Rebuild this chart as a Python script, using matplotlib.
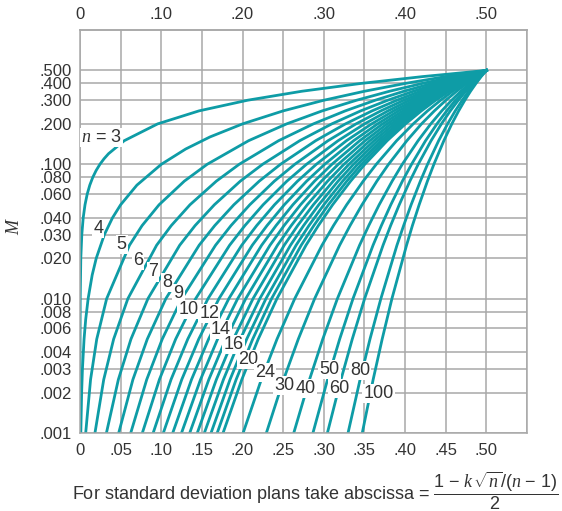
import matplotlib
matplotlib.use("Agg")
import matplotlib.pyplot as plt

TEAL = "#0e9ca6"
GRID = "#a8a8a8"
INK = "#333333"

plt.rcParams["font.family"] = ["Liberation Sans", "DejaVu Sans"]
plt.rcParams["mathtext.fontset"] = "custom"
plt.rcParams["mathtext.rm"] = "Liberation Sans"
plt.rcParams["mathtext.it"] = "Liberation Serif:italic"

# M levels read along the grid, shared by most curves
M_LEVELS = [.001, .0025, .005, .01, .025, .035, .05, .075, .10, .15, .20, .25,
            .30, .35, .40, .45, .50]

# abscissa where each curve crosses those M levels
X_N5 = [.0070, .0130, .0206, .0328, .0609, .0764, .0973, .1284, .1564, .2075, .2542,
        .2980, .3403, .3808, .4210, .4607, .50]
X_N6 = [.0184, .0292, .0414, .0589, .0943, .1123, .1353, .1678, .1958, .2444, .2871,
        .3264, .3632, .3986, .4329, .4666, .50]
X_N7 = [.0325, .0472, .0627, .0836, .1227, .1416, .1653, .1973, .2246, .2704, .3098,
        .3454, .3787, .4102, .4407, .4705, .50]
X_N8 = [.0476, .0651, .0828, .1056, .1466, .1658, .1893, .2206, .2466, .2900, .3266,
        .3594, .3899, .4186, .4462, .4733, .50]
X_N9 = [.0624, .0821, .1012, .1251, .1668, .1858, .2089, .2392, .2642, .3052, .3396,
        .3702, .3984, .4250, .4505, .4754, .50]
X_N10 = [.0767, .0977, .1177, .1423, .1841, .2029, .2253, .2546, .2786, .3176, .3501,
         .3789, .4052, .4301, .4539, .4771, .50]
X_N11 = [.0900, .1120, .1326, .1575, .1990, .2174, .2393, .2677, .2907, .3279, .3588,
         .3859, .4109, .4343, .4567, .4785, .50]
X_N12 = [.1025, .1252, .1461, .1710, .2120, .2301, .2514, .2789, .3010, .3367, .3661,
         .3919, .4155, .4378, .4590, .4796, .50]
X_N13 = [.1141, .1372, .1582, .1831, .2235, .2412, .2619, .2886, .3099, .3442, .3723,
         .3972, .4197, .4408, .4609, .4806, .50]
X_N14 = [.1249, .1483, .1693, .1940, .2338, .2511, .2713, .2971, .3177, .3508, .3778,
         .4017, .4231, .4434, .4627, .4815, .50]
X_N15 = [.1350, .1585, .1794, .2039, .2430, .2599, .2796, .3047, .3247, .3566, .3827,
         .4055, .4262, .4457, .4642, .4822, .50]
X_N16 = [.1443, .1678, .1887, .2129, .2513, .2678, .2871, .3115, .3309, .3618, .3870,
         .4091, .4290, .4477, .4656, .4829, .50]
X_N17 = [.1530, .1765, .1972, .2212, .2590, .2751, .2938, .3176, .3364, .3665, .3909,
         .4122, .4315, .4495, .4668, .4835, .50]
X_N18 = [.1612, .1846, .2051, .2288, .2659, .2817, .3000, .3232, .3415, .3707, .3943,
         .4150, .4337, .4512, .4678, .4840, .50]
X_N19 = [.1688, .1921, .2125, .2357, .2722, .2877, .3056, .3283, .3462, .3745, .3976,
         .4176, .4358, .4527, .4689, .4845, .50]
X_N20 = [.1760, .1991, .2193, .2423, .2781, .2933, .3108, .3330, .3504, .3780, .4005,
         .4200, .4376, .4541, .4698, .4850, .50]
X_N24 = [.2007, .2231, .2424, .2642, .2978, .3119, .3281, .3485, .3645, .3896, .4100,
         .4276, .4437, .4585, .4728, .4865, .50]
X_N30 = [.2293, .2505, .2686, .2887, .3195, .3323, .3470, .3653, .3796, .4022, .4202,
         .4360, .4502, .4633, .4758, .4880, .50]
X_N40 = [.2630, .2824, .2987, .3167, .3440, .3553, .3681, .3841, .3965, .4160, .4316,
         .4451, .4573, .4686, .4793, .4897, .50]
X_N50 = [.2866, .3046, .3195, .3359, .3606, .3708, .3824, .3967, .4079, .4252, .4392,
         .4512, .4620, .4721, .4816, .4909, .50]
X_N60 = [.3044, .3211, .3350, .3502, .3729, .3822, .3928, .4059, .4161, .4320, .4447,
         .4556, .4655, .4746, .4833, .4917, .50]
X_N80 = [.3298, .3446, .3568, .3702, .3900, .3982, .4074, .4188, .4276, .4413, .4523,
         .4617, .4703, .4781, .4856, .4929, .50]
X_N100 = [.3473, .3607, .3718, .3838, .4018, .4090, .4173, .4275, .4354, .4477, .4575,
          .4659, .4735, .4805, .4872, .4936, .50]

# n = 3 and n = 4 bend hard near the left edge, so they get their own points
N3_M = [.001, .002, .005, .01, .02, .03, .04, .05, .06, .07, .08, .09, .10, .11,
        .12, .15, .20, .25, .30, .35, .40, .45, .50]
N3_X = [.0000025, .0000099, .0000617, .000247, .000987, .00222, .00394, .00616,
        .00886, .01204, .01571, .01985, .02447, .02956, .03511, .05450, .09549,
        .14645, .20611, .27300, .34549, .42178, .50]
N4_M = [.001, .002, .003, .005, .007, .01, .015, .02, .03, .04, .05, .07, .10,
        .13, .16, .20, .25, .30, .35, .40, .45, .50]
N4_X = [.001, .002, .003, .005, .007, .01, .015, .02, .03, .04, .05, .07, .10,
        .13, .16, .20, .25, .30, .35, .40, .45, .50]

CURVES = [X_N5, X_N6, X_N7, X_N8, X_N9, X_N10, X_N11, X_N12, X_N13, X_N14, X_N15,
          X_N16, X_N17, X_N18, X_N19, X_N20, X_N24, X_N30, X_N40, X_N50, X_N60,
          X_N80, X_N100]

# curve labels: text, abscissa, M
LABEL_TEXT = [r"$n$ = 3", "4", "5", "6", "7", "8", "9", "10", "12", "14", "16",
              "20", "24", "30", "40", "50", "60", "80", "100"]
LABEL_X = [.0015, .0225, .0514, .0718, .0903, .1068, .1211, .1334, .1592, .1733,
           .1888, .2075, .2278, .2516, .2783, .3070, .3193, .3448, .3674]
LABEL_M = [.159, .0333, .0253, .0193, .0158, .0132, .0109, .00831, .00776, .00593,
           .00459, .00352, .00281, .00227, .00215, .00298, .00215, .00294, .00197]

Y_TICKS = [.001, .002, .003, .004, .006, .008, .010, .020, .030, .040, .060, .080,
           .100, .200, .300, .400, .500]
Y_LABELS = [".001", ".002", ".003", ".004", ".006", ".008", ".010", ".020", ".030",
            ".040", ".060", ".080", ".100", ".200", ".300", ".400", ".500"]
X_TICKS = [0, .05, .10, .15, .20, .25, .30, .35, .40, .45, .50, .55]
X_LABELS = ["0", ".05", ".10", ".15", ".20", ".25", ".30", ".35", ".40", ".45", ".50", ""]
TOP_TICKS = [0, .10, .20, .30, .40, .50]
TOP_LABELS = ["0", ".10", ".20", ".30", ".40", ".50"]


def main():
    fig = plt.figure(figsize=(5.62, 5.11), dpi=100)
    ax = fig.add_axes([80 / 562, 1 - 433 / 511, 447 / 562, 403 / 511])
    ax.set_yscale("log")

    ax.plot(N3_X, N3_M, color=TEAL, lw=2.0, zorder=2)
    ax.plot(N4_X, N4_M, color=TEAL, lw=2.0, zorder=2)
    for xs in CURVES:
        ax.plot(xs, M_LEVELS, color=TEAL, lw=2.0, zorder=2)

    for text, x, m in zip(LABEL_TEXT, LABEL_X, LABEL_M):
        ha = "left" if text.startswith("$") else "center"
        ax.text(x, m, text, ha=ha, va="center", fontsize=13, color=INK, zorder=4,
                bbox=dict(boxstyle="square,pad=0.06", fc="white", ec="none"))

    ax.set_xlim(0, .55)
    ax.set_ylim(.001, 1.0)
    ax.set_yticks(Y_TICKS, labels=Y_LABELS)
    ax.yaxis.set_minor_locator(plt.NullLocator())
    ax.set_xticks(X_TICKS, labels=X_LABELS)
    ax.tick_params(length=0, labelsize=12, labelcolor=INK)
    ax.tick_params(axis="x", pad=7)
    ax.tick_params(axis="y", pad=6)
    ax.grid(True, color=GRID, lw=1.1)
    ax.set_axisbelow(True)
    for sp in ax.spines.values():
        sp.set_color(GRID)
        sp.set_linewidth(1.1)

    top = ax.secondary_xaxis("top")
    top.set_xticks(TOP_TICKS, labels=TOP_LABELS)
    top.tick_params(length=0, labelsize=12, labelcolor=INK, pad=6)
    top.spines["top"].set_color(GRID)
    top.spines["top"].set_linewidth(1.1)

    ax.set_ylabel(r"$M$", fontsize=13, color=INK, rotation=90)
    ax.yaxis.set_label_coords(-0.128, 0.514)

    fig.text(72 / 562, 1 - 491 / 511,
             r"For standard deviation plans take abscissa = $\dfrac{1\,-\,k\,\sqrt{n}/(n\,-\,1)}{2}$",
             ha="left", va="center", fontsize=13, color=INK)

    fig.savefig("out.png", dpi=100)


if __name__ == "__main__":
    main()
